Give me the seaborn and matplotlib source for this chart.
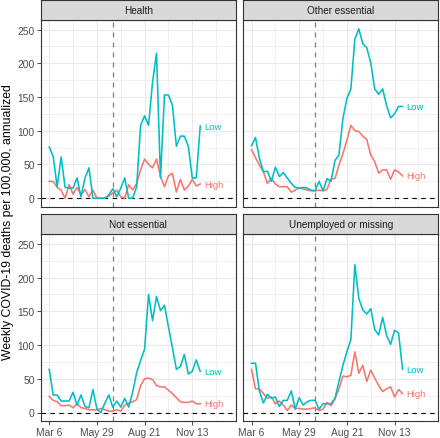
import matplotlib

matplotlib.use("Agg")
import matplotlib.dates as mdates
import matplotlib.pyplot as plt
import pandas as pd
import seaborn as sns

SECTORS = ["Health", "Other essential", "Not essential", "Unemployed or missing"]
GROUPS = ["High", "Low"]
START = "2020-03-06"
N_WEEKS = 39
REOPEN = "2020-06-26"
TICK_DATES = ["2020-03-06", "2020-05-29", "2020-08-21", "2020-11-13"]
TICK_LABELS = ["Mar 6", "May 29", "Aug 21", "Nov 13"]
MINOR_DATES = ["2020-04-17", "2020-07-10", "2020-10-02", "2020-12-25"]

health_low = [76, 62, 17, 61, 16, 15, 15, 30, 2, 30, 45, 0, 0, 0, 0, 5, 14, 2, 15, 30,
              0, 0, 17, 108, 122, 108, 172, 215, 30, 153, 153, 138, 77, 92, 92, 77, 30, 30, 107]
health_high = [25, 25, 16, 12, 0, 20, 6, 16, 5, 13, 2, 12, 0, 0, 0, 3, 8, 12, 2, 0,
               20, 12, 22, 42, 58, 50, 45, 58, 32, 17, 33, 37, 9, 28, 12, 18, 28, 18, 21]
other_low = [78, 90, 59, 39, 40, 25, 46, 32, 38, 30, 22, 16, 15, 16, 15, 12, 11, 25, 11, 29,
             25, 56, 64, 118, 148, 162, 236, 251, 229, 223, 201, 162, 154, 162, 137, 119, 125, 136, 136]
other_high = [72, 60, 49, 39, 22, 29, 21, 17, 17, 17, 9, 12, 15, 14, 12, 11, 11, 12, 11, 13,
              29, 29, 49, 66, 86, 108, 100, 99, 92, 87, 64, 54, 37, 42, 42, 28, 42, 39, 33]
notess_low = [64, 26, 26, 17, 17, 17, 30, 11, 26, 9, 7, 34, 5, 0, 14, 26, 8, 17, 8, 21,
              8, 30, 59, 77, 94, 175, 136, 172, 151, 159, 127, 96, 64, 68, 86, 57, 61, 78, 61]
notess_high = [24, 18, 16, 10, 10, 11, 7, 13, 7, 6, 4, 4, 4, 6, 4, 2, 2, 4, 2, 11,
               14, 16, 19, 40, 50, 51, 49, 40, 38, 38, 33, 28, 22, 16, 15, 15, 17, 13, 13]
unemp_low = [73, 73, 31, 14, 27, 21, 23, 9, 18, 18, 32, 5, 22, 11, 16, 18, 18, 5, 13, 13,
             13, 21, 46, 70, 90, 108, 219, 169, 152, 146, 154, 123, 115, 141, 114, 101, 122, 118, 64]
unemp_high = [64, 35, 35, 28, 21, 23, 13, 17, 11, 3, 11, 6, 6, 5, 5, 6, 7, 3, 5, 15,
              10, 20, 35, 54, 53, 55, 90, 58, 70, 46, 63, 51, 40, 31, 35, 38, 23, 34, 28]

SERIES = {
    ("Health", "Low"): health_low,
    ("Health", "High"): health_high,
    ("Other essential", "Low"): other_low,
    ("Other essential", "High"): other_high,
    ("Not essential", "Low"): notess_low,
    ("Not essential", "High"): notess_high,
    ("Unemployed or missing", "Low"): unemp_low,
    ("Unemployed or missing", "High"): unemp_high,
}
PALETTE = {"High": "#F8766D", "Low": "#00BFC4"}


def build_frame() -> pd.DataFrame:
    dates = pd.date_range(START, periods=N_WEEKS, freq="7D")
    rows = []
    for (sector, group), values in SERIES.items():
        rows.append(pd.DataFrame({"date": dates, "sector": sector, "group": group, "deaths": values}))
    return pd.concat(rows, ignore_index=True)


def main() -> None:
    df = build_frame()
    plt.rcParams["font.family"] = ["Liberation Sans", "DejaVu Sans"]

    fig = plt.figure(figsize=(4.4, 4.39), dpi=100)
    W, H = 440, 439
    lefts = [40.7, 243.0]
    pw = 195.3
    tops = [20.7, 235.0]
    ph = 187.0
    sh = 20.0

    start = pd.Timestamp(START)
    xlim = (mdates.date2num(start - pd.Timedelta(days=15)), mdates.date2num(start + pd.Timedelta(days=329)))

    for i, sector in enumerate(SECTORS):
        r, c = divmod(i, 2)
        x0, y0 = lefts[c], tops[r]
        ax = fig.add_axes([x0 / W, 1 - (y0 + ph) / H, pw / W, ph / H])
        sax = fig.add_axes([x0 / W, 1 - y0 / H, pw / W, sh / H])

        sax.set_facecolor("#D9D9D9")
        sax.set_xticks([])
        sax.set_yticks([])
        for sp in sax.spines.values():
            sp.set_color("#333333")
            sp.set_linewidth(0.8)
        sax.text(0.5, 0.5, sector, ha="center", va="center", fontsize=7.2, color="#1A1A1A",
                 transform=sax.transAxes)

        sub = df[df["sector"] == sector]
        ax.set_facecolor("white")
        ax.set_axisbelow(True)
        ax.axhline(0, color="black", linestyle=(0, (4, 4)), linewidth=0.8, zorder=1)
        ax.axvline(mdates.date2num(pd.Timestamp(REOPEN)), color="#7F7F7F",
                   linestyle=(0, (4, 4)), linewidth=0.9, zorder=1)
        sns.lineplot(data=sub, x="date", y="deaths", hue="group", hue_order=GROUPS,
                     palette=PALETTE, estimator=None, linewidth=1.15, legend=False, ax=ax, zorder=3)

        for group in GROUPS:
            g = sub[sub["group"] == group]
            ax.annotate(group, xy=(g["date"].iloc[-1], g["deaths"].iloc[-1]), xytext=(3, 0),
                        textcoords="offset points", ha="left", va="center",
                        fontsize=6.8, color=PALETTE[group])

        ax.set_xlim(*xlim)
        ax.set_ylim(-12.6, 264.6)
        ax.set_xticks([mdates.date2num(pd.Timestamp(d)) for d in TICK_DATES])
        ax.set_xticks([mdates.date2num(pd.Timestamp(d)) for d in MINOR_DATES], minor=True)
        ax.set_yticks([0, 50, 100, 150, 200, 250])
        ax.set_yticks([25, 75, 125, 175, 225], minor=True)
        ax.grid(True, which="major", color="#EBEBEB", linewidth=0.8)
        ax.grid(True, which="minor", color="#EBEBEB", linewidth=0.5)
        ax.tick_params(which="minor", length=0)
        ax.tick_params(which="major", length=2.7, width=0.6, color="#333333",
                       labelsize=7.4, labelcolor="#4D4D4D", pad=1.5)
        if r == 1:
            ax.set_xticklabels(TICK_LABELS)
        else:
            ax.tick_params(axis="x", which="major", length=0, labelbottom=False)
        if c == 0:
            ax.set_yticklabels(["0", "50", "100", "150", "200", "250"])
        else:
            ax.tick_params(axis="y", which="major", length=0, labelleft=False)
        ax.set_xlabel("")
        ax.set_ylabel("")
        for sp in ax.spines.values():
            sp.set_color("#333333")
            sp.set_linewidth(0.8)
            sp.set_visible(True)

    fig.text(8 / W, 1 - 222 / H, "Weekly COVID-19 deaths per 100,000, annualized",
             rotation=90, ha="center", va="center", fontsize=8.8)

    fig.savefig("out.png", dpi=100)
    plt.close(fig)


if __name__ == "__main__":
    main()
